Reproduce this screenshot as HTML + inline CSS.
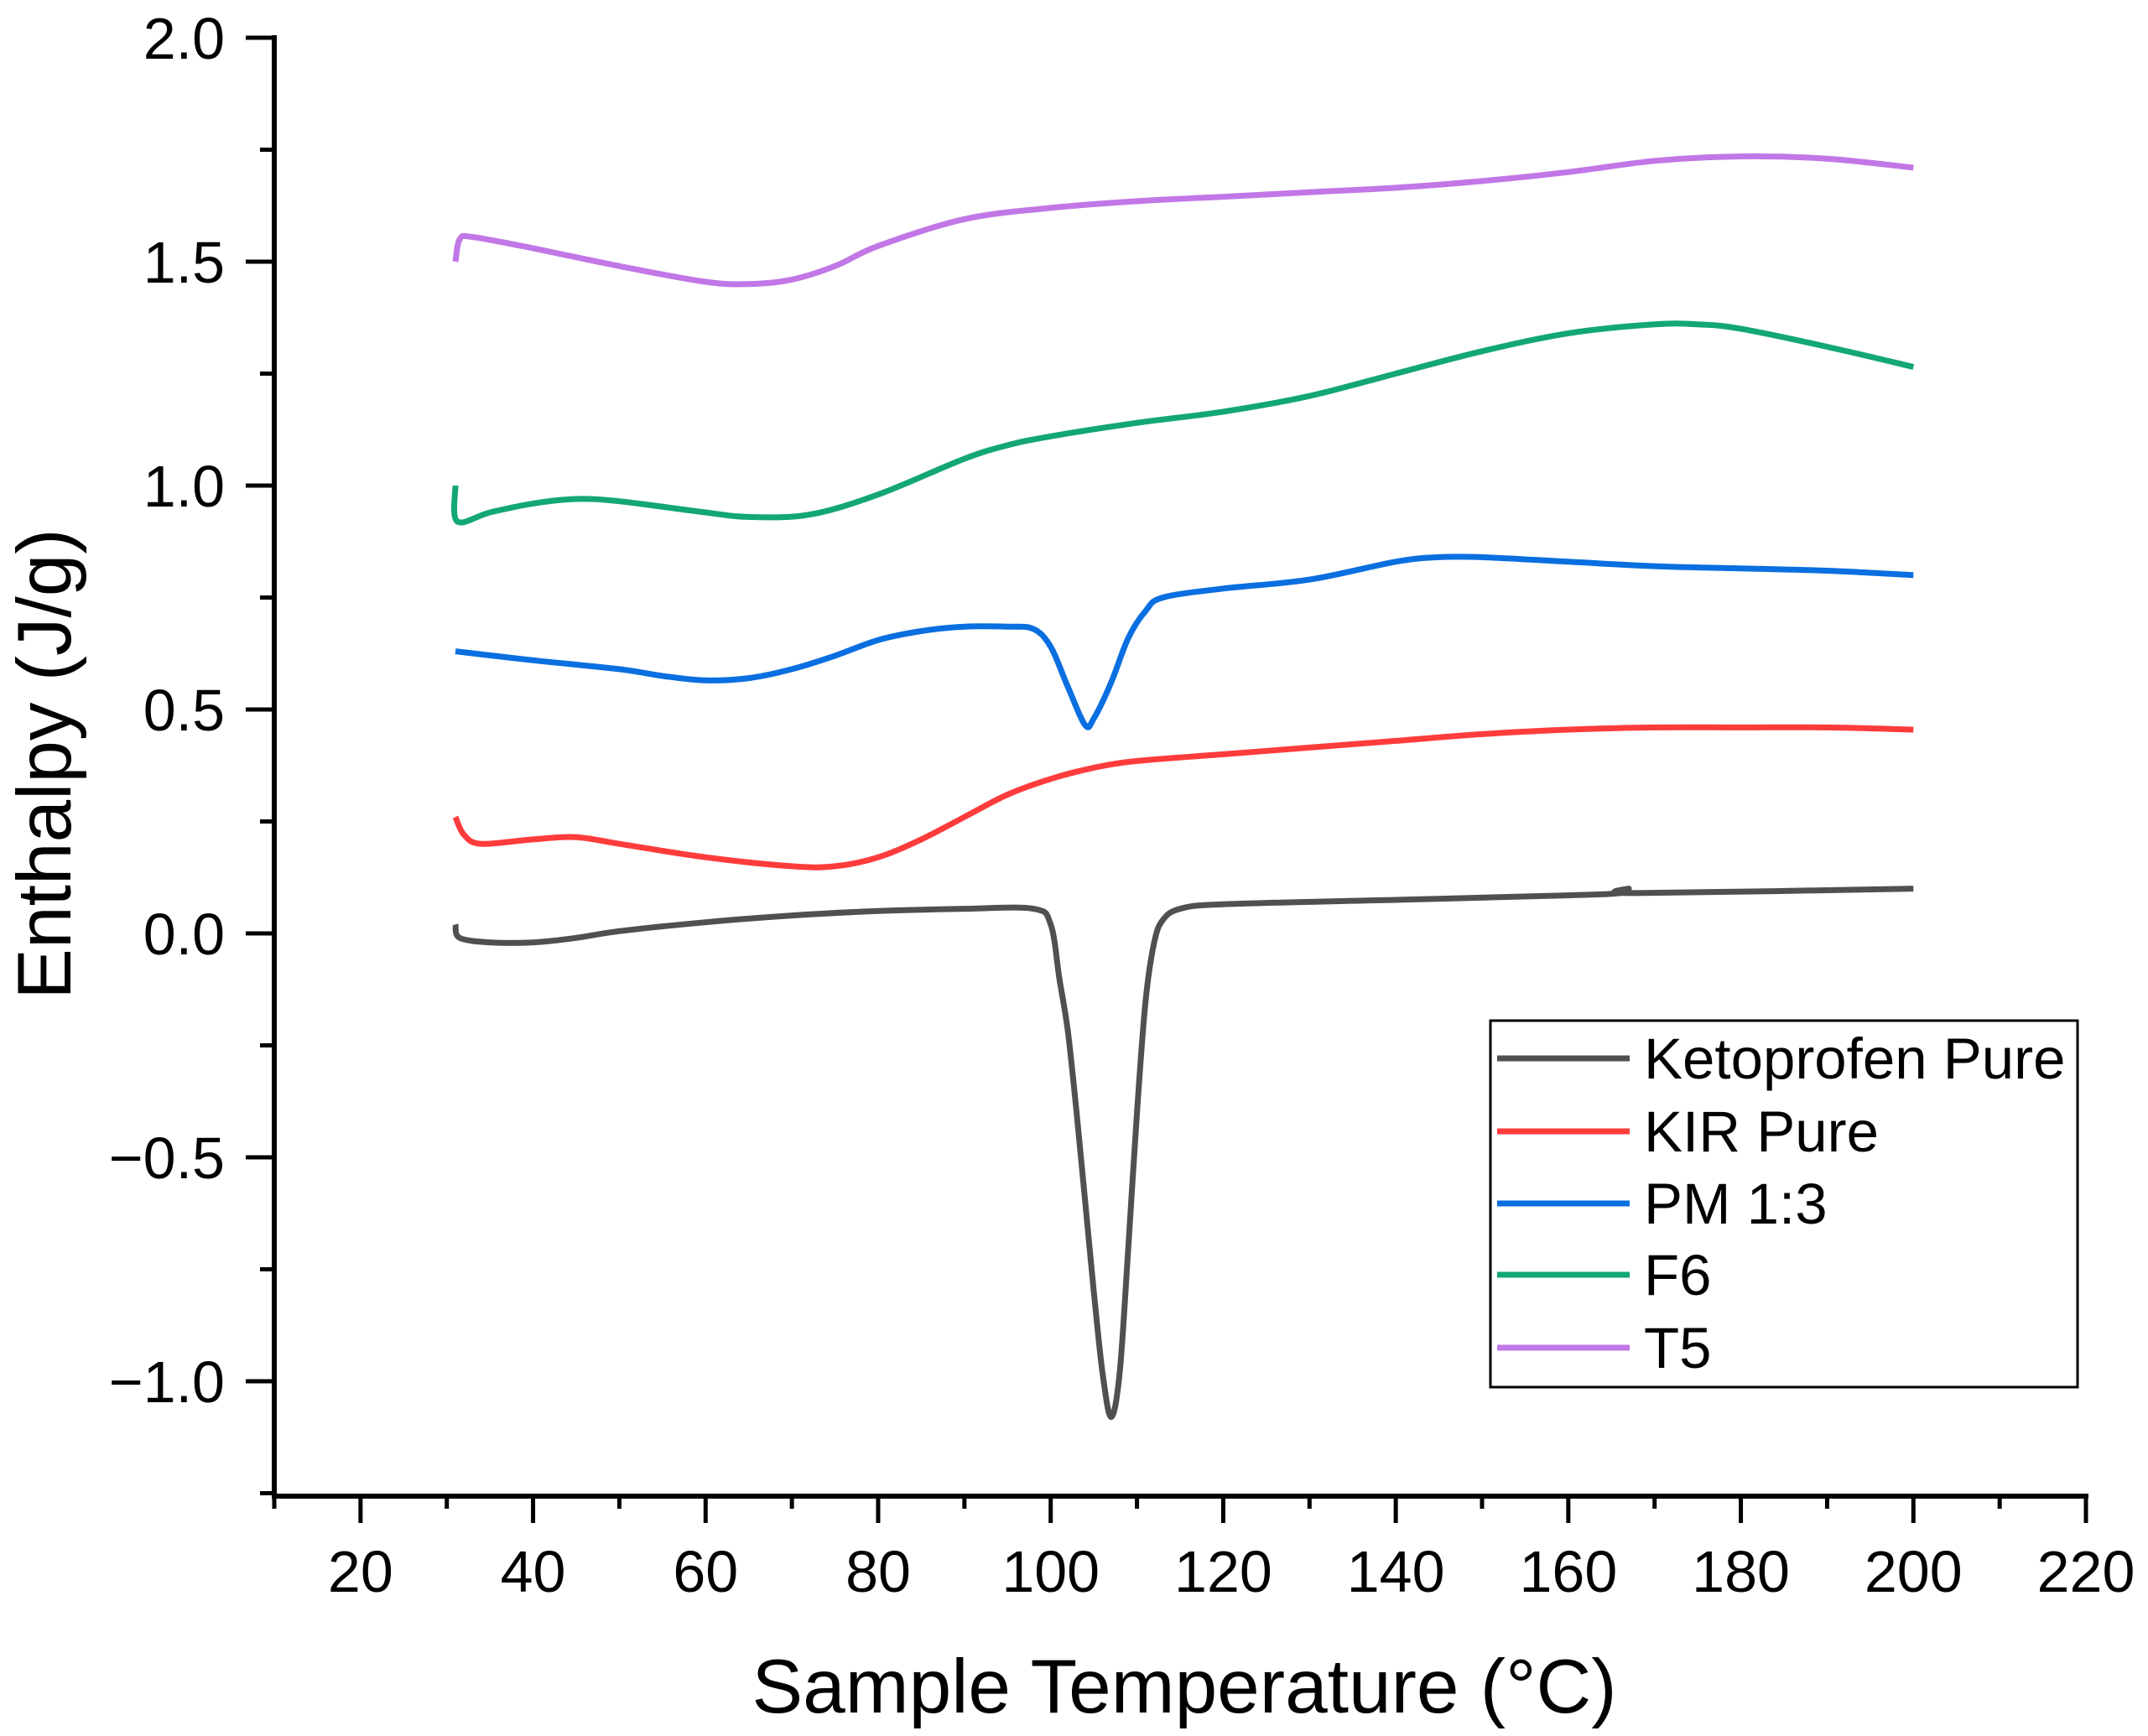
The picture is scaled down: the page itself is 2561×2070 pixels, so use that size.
<!DOCTYPE html>
<html><head><meta charset="utf-8"><style>
html,body{margin:0;padding:0;background:#fff;}
svg{display:block;font-family:"Liberation Sans",Arial,sans-serif;}
</style></head><body>
<svg id="chart" width="2561" height="2070" viewBox="0 0 2561 2070" xmlns="http://www.w3.org/2000/svg">
<g id="axes"></g>
<g id="series"></g>
<g id="legend"></g>
<text x="1412" y="2042" font-size="91" text-anchor="middle" fill="#000">Sample Temperature (°C)</text>
<text transform="translate(84,911) rotate(-90)" font-size="91" text-anchor="middle" fill="#000">Enthalpy (J/g)</text>
</svg>
<script>
const seriesNames = ["Ketoprofen Pure","KIR Pure","PM 1:3","F6","T5"];
const seriesColors = ["#505050","#ff3c3c","#0a6fe0","#13a774","#c277e6"];
const ketoT = [31,31.5,35,40,45,50,60,70,80,90,98,100,101,102,103,104,105,106,107,108,109,110,111,112,113,115,120,140,160,166,167,168,200];
const ketoV = [0.02,-0.01,-0.02,-0.02,-0.01,0.005,0.025,0.04,0.05,0.055,0.055,0.02,-0.1,-0.22,-0.4,-0.6,-0.8,-0.98,-1.08,-0.98,-0.7,-0.4,-0.15,-0.02,0.03,0.055,0.065,0.075,0.085,0.09,0.1,0.09,0.1];
const kirT = [31,32,34,40,45,50,60,70,75,80,85,90,95,100,105,110,120,130,140,150,160,170,180,190,200];
const kirV = [0.26,0.22,0.2,0.21,0.215,0.2,0.17,0.15,0.15,0.17,0.21,0.26,0.31,0.345,0.37,0.385,0.40,0.415,0.43,0.445,0.455,0.46,0.46,0.46,0.455];
const pmT = [31,40,50,55,60,65,70,75,80,85,90,95,98,100,102,104,105,107,109,111,113,120,130,140,145,150,160,170,180,190,200];
const pmV = [0.63,0.61,0.59,0.575,0.565,0.57,0.59,0.62,0.655,0.675,0.685,0.685,0.68,0.64,0.55,0.465,0.48,0.56,0.66,0.72,0.75,0.77,0.79,0.83,0.84,0.84,0.83,0.82,0.815,0.81,0.80];
const f6T = [31,31.2,35,40,45,50,60,65,72,80,90,95,100,110,120,130,140,150,160,170,175,180,190,200];
const f6V = [1.0,0.92,0.94,0.96,0.97,0.965,0.94,0.93,0.935,0.98,1.06,1.09,1.11,1.14,1.165,1.2,1.25,1.3,1.34,1.36,1.36,1.35,1.31,1.265];
const t5T = [31,31.5,33,40,50,60,65,70,75,80,90,100,110,120,130,140,150,160,170,180,190,200];
const t5V = [1.5,1.55,1.555,1.53,1.49,1.455,1.45,1.46,1.49,1.535,1.595,1.62,1.635,1.645,1.655,1.665,1.68,1.70,1.725,1.735,1.73,1.71];
const xTicks = [20,40,60,80,100,120,140,160,180,200,220];
const yTicks = [-1.0,-0.5,0.0,0.5,1.0,1.5,2.0];
const yTickLabels = ["\u22121.0","\u22120.5","0.0","0.5","1.0","1.5","2.0"];

const NS="http://www.w3.org/2000/svg";
const X0=327, X1=2487, XMIN=10, XMAX=220;
const YTOP=45, YMAX=2.0, PXU=534, YBOT=1784;
function xs(v){return X0+(v-XMIN)*(X1-X0)/(XMAX-XMIN);}
function ys(v){return YTOP+(YMAX-v)*PXU;}
function mk(tag,attrs,parent){const e=document.createElementNS(NS,tag);for(const k in attrs)e.setAttribute(k,attrs[k]);parent.appendChild(e);return e;}

const axes=document.getElementById('axes');
let yAxis=mk('line',{x1:X0,y1:YTOP-3,x2:X0,y2:YBOT+3,stroke:'#000','stroke-width':6},axes);


let xAxis=mk('line',{x1:X0-3,y1:YBOT,x2:X1+3,y2:YBOT,stroke:'#000','stroke-width':6},axes);


for(let v=XMIN; v<=XMAX; v+=10){
  const major = xTicks.includes(v);
  const t=mk('line',{x1:xs(v),y1:YBOT,x2:xs(v),y2:YBOT+(major?32:15),stroke:'#000','stroke-width':5},axes);
  
  
}
xTicks.forEach(v=>{
  const t=mk('text',{x:xs(v),y:1898,'font-size':70,'text-anchor':'middle',fill:'#000'},axes);
  t.textContent=String(v);
  
  
});
for(let v=-1.25; v<=2.0001; v+=0.25){
  const major = Math.abs(v*2-Math.round(v*2))<1e-6;
  const t=mk('line',{x1:X0,y1:ys(v),x2:X0-(major?34:17),y2:ys(v),stroke:'#000','stroke-width':5},axes);
  
  
}
yTicks.forEach((v,i)=>{
  const t=mk('text',{x:268,y:ys(v)+25,'font-size':70,'text-anchor':'end',fill:'#000'},axes);
  t.textContent=yTickLabels[i];
  
  
});

const sg=document.getElementById('series');
const allT=[ketoT,kirT,pmT,f6T,t5T], allV=[ketoV,kirV,pmV,f6V,t5V];
const seriesKeys=["ketoprofen-pure","kir-pure","pm-1-3","f6","t5"];
function smoothPath(T,V){
  const p=T.map((t,i)=>[xs(t),ys(V[i])]);
  let d='M'+p[0][0].toFixed(1)+','+p[0][1].toFixed(1);
  for(let i=0;i<p.length-1;i++){
    const p0=p[i-1]||p[i], p1=p[i], p2=p[i+1], p3=p[i+2]||p2;
    const c1=[p1[0]+(p2[0]-p0[0])/6, p1[1]+(p2[1]-p0[1])/6];
    const c2=[p2[0]-(p3[0]-p1[0])/6, p2[1]-(p3[1]-p1[1])/6];
    d+=' C'+c1[0].toFixed(1)+','+c1[1].toFixed(1)+' '+c2[0].toFixed(1)+','+c2[1].toFixed(1)+' '+p2[0].toFixed(1)+','+p2[1].toFixed(1);
  }
  return d;
}
for(let s=4;s>=0;s--){
  const path=mk('path',{d:smoothPath(allT[s],allV[s]),fill:'none',stroke:seriesColors[s],'stroke-width':7,'stroke-linejoin':'round'},sg);
  
  
}

const lg=document.getElementById('legend');
let box=mk('rect',{x:1777,y:1217,width:700,height:437,fill:'#fff',stroke:'#000','stroke-width':3},lg);


const legY=[1262,1349,1435,1520,1607];
seriesNames.forEach((n,i)=>{
  const g=mk('g',{},lg);
  
  
  const l=mk('line',{x1:1785,y1:legY[i],x2:1943,y2:legY[i],stroke:seriesColors[i],'stroke-width':7},g);
  
  
  const t=mk('text',{x:1960,y:legY[i]+24,'font-size':69,fill:'#000'},g);
  t.textContent=n;
  
  
});
</script>
</body></html>
